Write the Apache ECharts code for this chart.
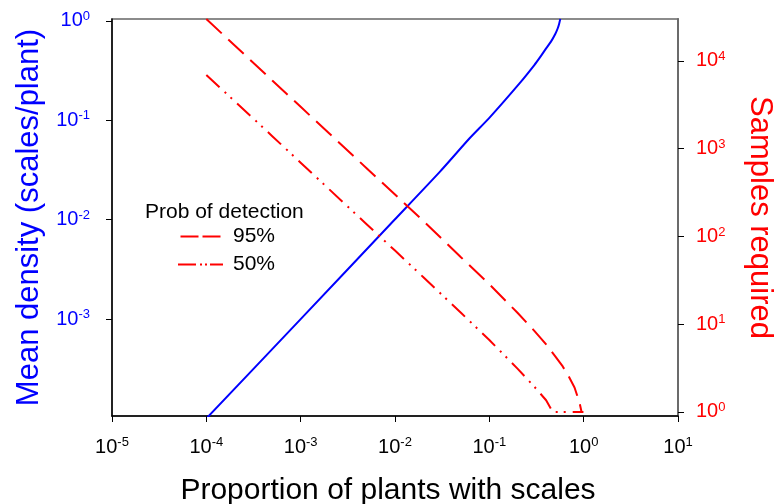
<!DOCTYPE html>
<html>
<head>
<meta charset="utf-8">
<script src="https://cdn.jsdelivr.net/npm/echarts@6/dist/echarts.min.js"></script>
<style>
  html, body { margin: 0; padding: 0; background: #fff; }
  #main { width: 778px; height: 504px; }
</style>
</head>
<body>
<div id="main"></div>
<script>
// mean density (left axis) against proportion of infested plants
const densityP = [1e-4, 1e-3, 1e-2, 0.03, 0.0618, 0.1, 0.21, 0.3, 0.35, 0.4, 0.45, 0.5, 0.53, 0.55, 0.565];
const densityMean = [1e-4, 1e-3, 0.0101, 0.0305, 0.066, 0.106, 0.237, 0.36, 0.44, 0.53, 0.62, 0.74, 0.84, 0.94, 1.05];

// samples required (right axis), 95% detection
const p95 = [1e-4, 2e-4, 5e-4, 1e-3, 2e-3, 5e-3, 0.01, 0.02, 0.05, 0.1, 0.2, 0.3, 0.4, 0.5, 0.6, 0.7, 0.8, 0.9, 0.95, 0.99];
const samples95 = [30000, 15000, 6000, 3000, 1500, 600, 300, 150, 58, 28.5, 13.4, 8.4, 5.9, 4.3, 3.3, 2.5, 1.9, 1.3, 1.0, 1.0];

// samples required (right axis), 50% detection
const p50 = [1e-4, 2e-4, 5e-4, 1e-3, 2e-3, 5e-3, 0.01, 0.02, 0.05, 0.1, 0.2, 0.3, 0.4, 0.47, 0.99];
const samples50 = [6930, 3470, 1390, 693, 346, 138, 69, 34.3, 13.5, 6.6, 3.1, 1.94, 1.36, 1.0, 1.0];

// tick values
const xTicks = [1e-5, 1e-4, 1e-3, 1e-2, 1e-1, 1, 10];
const leftTicks = [1e-3, 1e-2, 1e-1, 1];
const rightTicks = [1, 10, 100, 1000, 10000];

const legendTitle = 'Prob of detection';
const seriesNames = ['95%', '50%'];

function pairs (xs, ys) {
  return xs.map((x, i) => [x, ys[i]]);
}

// "10" with the exponent as superscript
function powLabel (v) {
  return '{b|10}{sup|' + Math.round(Math.log10(v)) + '}';
}

function richFor (color) {
  return {
    b: { fontSize: 20, color: color, lineHeight: 22 },
    sup: { fontSize: 13, color: color, verticalAlign: 'top', lineHeight: 13 }
  };
}

let myChart = echarts.init(document.getElementById('main'));

let option = {
  animation: false,
  textStyle: { fontFamily: 'Liberation Sans, Arial, sans-serif' },
  title: {
    text: legendTitle,
    left: 145,
    top: 202,
    padding: 0,
    textStyle: { fontSize: 21, fontWeight: 'normal', color: '#000' }
  },
  legend: {
    // dashed icons drawn as small paths
    data: [
      { name: seriesNames[0], icon: 'path://M4,0h18v2h-18z M26,0h18v2h-18z' },
      { name: seriesNames[1], icon: 'path://M0,0h18v2h-18z M22,0h2v2h-2z M27,0h2v2h-2z M32,0h13v2h-13z' }
    ],
    orient: 'vertical',
    left: 178,
    top: 226,
    padding: 0,
    itemWidth: 45,
    itemHeight: 2,
    itemGap: 7,
    itemStyle: { color: '#ff0000' },
    textStyle: { fontSize: 21, color: '#000', padding: [0, 0, 0, 5] }
  },
  grid: {
    left: 112,
    right: 100,
    top: 19,
    bottom: 88,
    show: true,
    borderColor: '#666',
    borderWidth: 1.5,
    outerBoundsMode: 'none'
  },
  xAxis: {
    type: 'log',
    logBase: 10,
    min: 1e-5,
    max: 10,
    name: 'Proportion of plants with scales',
    nameLocation: 'middle',
    nameGap: 60,
    nameTextStyle: { fontSize: 30, color: '#000', padding: [0, 14, 0, 0] },
    axisLine: { lineStyle: { color: '#000', width: 1.5 } },
    axisTick: { length: 6, lineStyle: { color: '#000' }, customValues: xTicks },
    axisLabel: { margin: 20, formatter: powLabel, rich: richFor('#000'), customValues: xTicks },
    splitLine: { show: false }
  },
  yAxis: [
    {
      type: 'log',
      logBase: 10,
      min: 1.059e-4,
      max: 1.047,
      position: 'left',
      name: 'Mean density (scales/plant)',
      nameLocation: 'middle',
      nameGap: 66,
      nameTextStyle: { fontSize: 31, color: '#0000ff' },
      axisLine: { show: true, lineStyle: { color: '#000', width: 1.5 } },
      axisTick: { show: true, length: 6, lineStyle: { color: '#000' }, customValues: leftTicks },
      axisLabel: { margin: 22, formatter: powLabel, rich: richFor('#0000ff'), customValues: leftTicks },
      splitLine: { show: false }
    },
    {
      type: 'log',
      logBase: 10,
      min: 0.8995,
      max: 30061,
      position: 'right',
      name: 'Samples required',
      nameLocation: 'middle',
      nameRotate: -90,
      nameGap: 66,
      nameTextStyle: { fontSize: 31, color: '#ff0000' },
      axisLine: { show: true, lineStyle: { color: '#6b6b6b', width: 2 } },
      axisTick: { show: true, length: 6, lineStyle: { color: '#000' }, customValues: rightTicks },
      axisLabel: { margin: 18, formatter: powLabel, rich: richFor('#ff0000'), customValues: rightTicks },
      splitLine: { show: false }
    }
  ],
  series: [
    {
      name: 'density',
      type: 'line',
      yAxisIndex: 0,
      symbol: 'none',
      smooth: 0.2,
      color: '#0000ff',
      lineStyle: { width: 2, color: '#0000ff' },
      data: pairs(densityP, densityMean)
    },
    {
      name: seriesNames[0],
      type: 'line',
      yAxisIndex: 1,
      symbol: 'none',
      color: '#ff0000',
      lineStyle: { width: 2, color: '#ff0000', type: [21, 9] },
      data: pairs(p95, samples95)
    },
    {
      name: seriesNames[1],
      type: 'line',
      yAxisIndex: 1,
      symbol: 'none',
      color: '#ff0000',
      lineStyle: { width: 2, color: '#ff0000', type: [18, 7, 2, 6, 2, 7] },
      data: pairs(p50, samples50)
    }
  ]
};

myChart.setOption(option);
</script>
</body>
</html>
